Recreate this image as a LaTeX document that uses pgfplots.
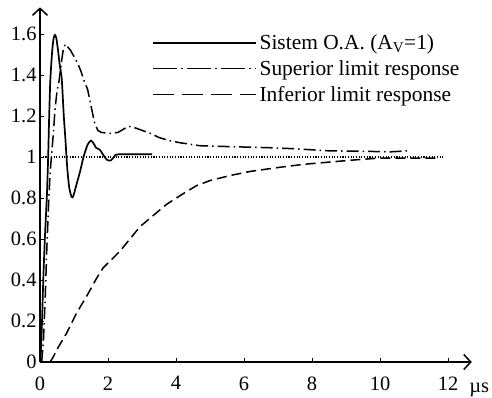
\documentclass[border=0pt]{standalone}
\usepackage{fontspec}
\setmainfont{Liberation Serif}
\usepackage{pgfplots}
\pgfplotsset{compat=1.18}
\usetikzlibrary{arrows.meta}
\begin{document}
\begin{tikzpicture}
\useasboundingbox (-40bp,-36bp) rectangle (452bp,362bp);
\begin{axis}[
  anchor=origin, at={(0,0)},
  x=34bp, y=205bp,
  xmin=0, xmax=12.7, ymin=0, ymax=1.73,
  clip=false,
  axis lines=left,
  axis line style={line width=1.5bp, -{Straight Barb[length=7bp,width=15bp,line width=1.5bp]}},
  font=\fontsize{20.5}{24}\selectfont,
  /pgf/number format/assume math mode=true,
  xtick={0,2,4,6,8,10,12},
  xticklabels={0,2,4,6,8,10,12},
  ytick={0,0.2,0.4,0.6,0.8,1,1.2,1.4,1.6},
  yticklabels={0,0.2,0.4,0.6,0.8,1,1.2,1.4,1.6},
  tick align=inside,
  major tick length=4bp,
  tick style={line width=0.8bp, black},
  xticklabel style={yshift=-11bp},
  yticklabel style={xshift=0bp},
  legend image code/.code={\draw[#1] (0bp,0bp) -- (103bp,0bp);},
  legend cell align=left,
  legend style={draw=none, fill=none, at={(axis cs:3.3,1.61)}, anchor=north west,
    inner sep=0pt, row sep=4.5bp, nodes={inner sep=2.5bp}, font=\fontsize{21.5}{26}\selectfont},
]
\addplot[forget plot, line width=1.1bp, black, dash pattern=on 1.1bp off 1.6bp] coordinates {(0,1) (11.85,1)};
\addplot[forget plot, line width=1.7bp, black, smooth, tension=0.4] coordinates {
(0,0) (0.03,0.06) (0.06,0.2) (0.1,0.42) (0.15,0.63) (0.2,0.8) (0.24,1.0) (0.27,1.2)
(0.3,1.36) (0.33,1.45) (0.36,1.52) (0.4,1.58) (0.44,1.595) (0.48,1.58) (0.53,1.52)
(0.58,1.45) (0.64,1.38) (0.7,1.2) (0.75,1.08) (0.8,0.95) (0.86,0.85) (0.93,0.805)
(0.98,0.81) (1.08,0.87) (1.18,0.93) (1.28,1.0) (1.4,1.06) (1.5,1.08) (1.58,1.065)
(1.65,1.045) (1.76,1.035) (1.88,1.005) (1.98,0.985) (2.08,0.983) (2.18,1.0) (2.3,1.013) (3.3,1.013)};
\addplot[forget plot, line width=1.5bp, black, dash pattern=on 12bp off 4bp on 1.5bp off 4bp] coordinates {
(0.05,0) (0.1,0.1) (0.15,0.3) (0.2,0.55) (0.26,0.8) (0.3,0.93) (0.35,1.03) (0.4,1.13)
(0.44,1.23) (0.5,1.32) (0.56,1.37) (0.62,1.45) (0.68,1.52) (0.74,1.55) (0.8,1.54)
(0.9,1.52) (1.0,1.49) (1.1,1.46) (1.2,1.42) (1.3,1.37) (1.4,1.33) (1.5,1.25) (1.6,1.17)
(1.7,1.13) (1.8,1.12) (2.06,1.115) (2.3,1.12) (2.45,1.135) (2.6,1.15) (2.75,1.145)
(3.0,1.13) (3.25,1.115) (3.5,1.095) (3.8,1.08) (4.1,1.07) (4.7,1.055) (5.7,1.05)
(6.8,1.045) (7.5,1.04) (8.5,1.03) (9.5,1.028) (10.3,1.025) (10.8,1.03)};
\addplot[forget plot, line width=1.5bp, black, dash pattern=on 10bp off 5bp] coordinates {
(0.3,0) (0.39,0.025) (0.53,0.07) (0.78,0.14) (1.08,0.24) (1.37,0.32) (1.67,0.41)
(1.86,0.46) (2.35,0.54) (2.94,0.66) (3.44,0.73) (3.73,0.77) (4.2,0.82) (4.6,0.86)
(5.0,0.885) (5.6,0.91) (6.2,0.93) (7.06,0.95) (7.8,0.965) (8.5,0.975) (9.2,0.985)
(10,0.995) (11.7,0.995)};
\addlegendimage{line width=1.7bp, black}
\addlegendentry{Sistem O.A. (A\textsubscript{V}=1)}
\addlegendimage{line width=1.5bp, black, dash pattern=on 24bp off 4bp on 2bp off 4bp}
\addlegendentry{Superior limit response}
\addlegendimage{line width=1.5bp, black, dash pattern=on 21bp off 8bp}
\addlegendentry{Inferior limit response}
\node[anchor=base west, inner sep=0pt] at (axis cs:12.62,-0.147) {µs};
\end{axis}
\end{tikzpicture}
\end{document}
